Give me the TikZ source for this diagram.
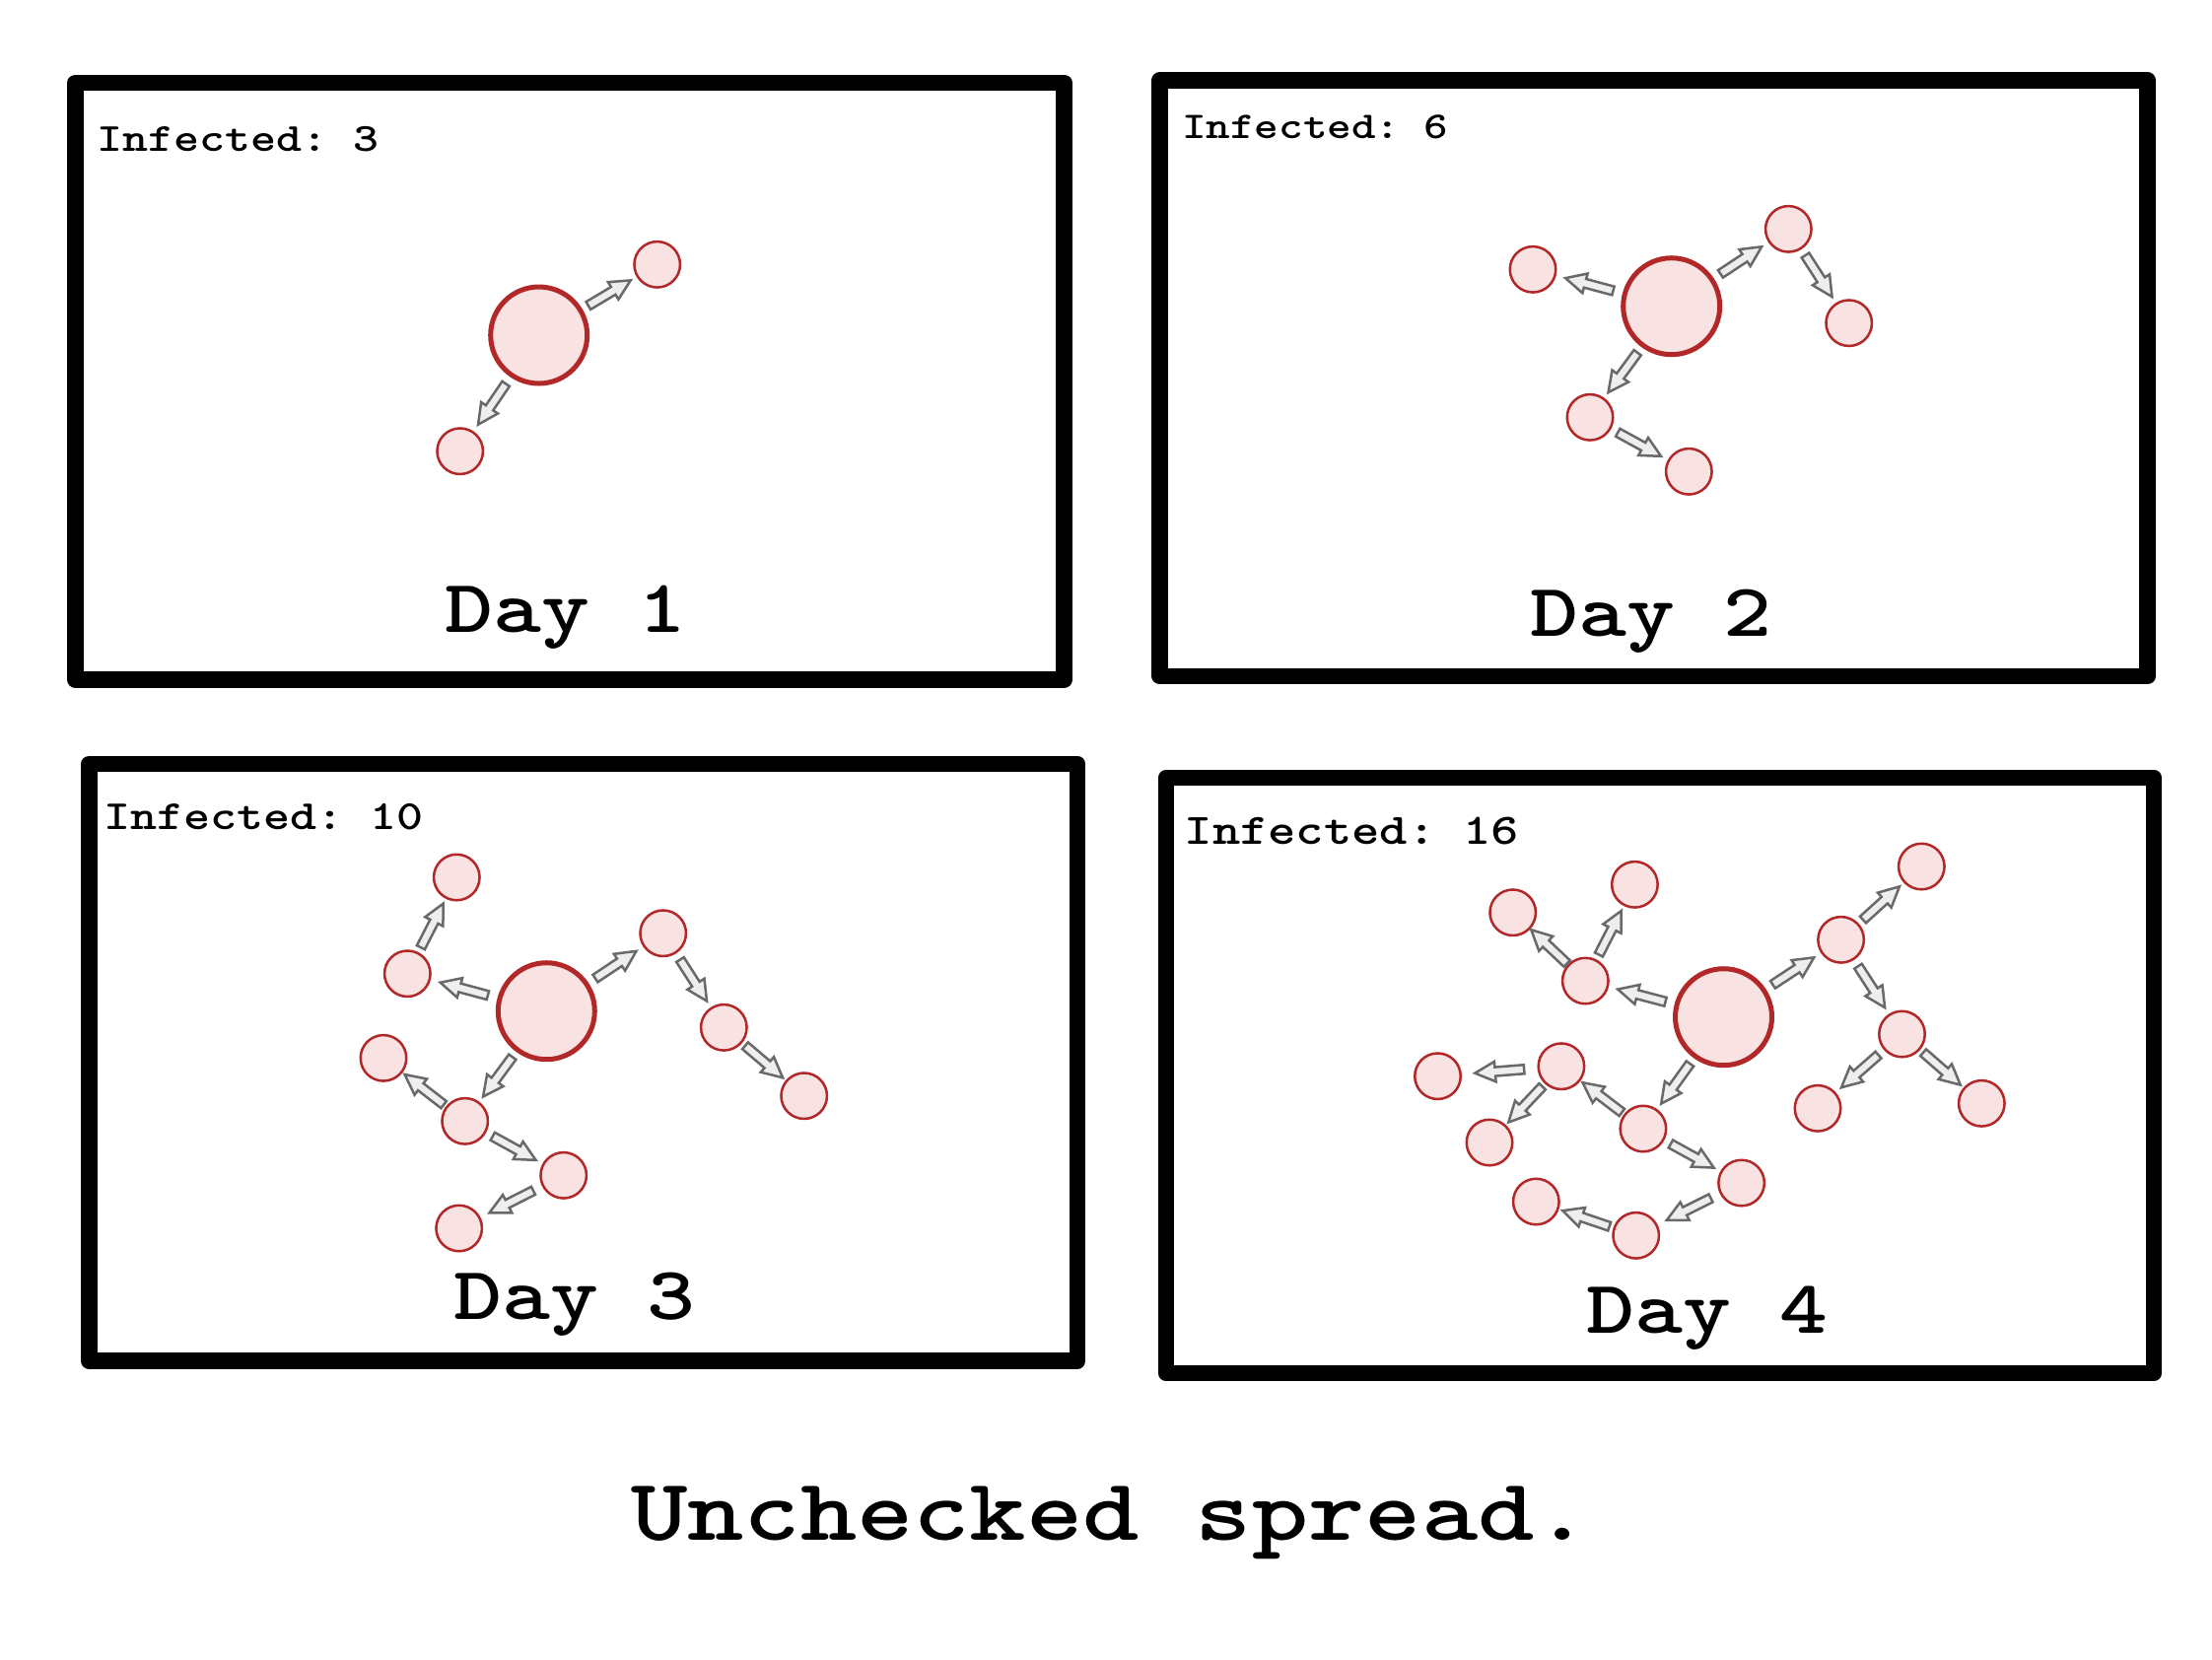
\documentclass[tikz,border=0pt]{standalone}
\usepackage{graphicx}
\usetikzlibrary{calc}
\definecolor{cred}{RGB}{178,40,40}
\definecolor{cfill}{RGB}{249,226,226}
\definecolor{agray}{RGB}{105,105,105}
\definecolor{afill}{RGB}{238,238,238}
\newcommand\mtxt[2]{\scalebox{1.222}[1]{\fontsize{#1}{#1}\ttfamily\bfseries\selectfont\frenchspacing #2}}
\newcommand\arr[2]{%
 \path (#1) -- (#2) coordinate[midway] (m);
 \filldraw[blk] let \p1=($(#2)-(#1)$), \n1={atan2(\y1,\x1)} in
  [shift={(m)},rotate=\n1]
  (-2.5mm,-0.45mm) -- (0.45mm,-0.45mm) -- (0.45mm,-1.02mm) -- (2.5mm,0mm)
  -- (0.45mm,1.02mm) -- (0.45mm,0.45mm) -- (-2.5mm,0.45mm) -- cycle;}
\begin{document}
\begin{tikzpicture}[x=0.1mm,y=-0.1mm,
 frame/.style={draw=black,line width=1.65mm,line join=round},
 big/.style={circle,draw=cred,fill=cfill,line width=0.5mm,minimum size=9.8mm,inner sep=0},
 sm/.style={circle,draw=cred,fill=cfill,line width=0.25mm,minimum size=4.65mm,inner sep=0},
 blk/.style={draw=agray,fill=afill,line width=0.25mm,line join=miter},
 lbl/.style={anchor=base west,inner sep=0}]
\useasboundingbox (0,0) rectangle (2244,1683);
\fill[white] (0,0) rectangle (2244,1683);
% frames
\draw[frame] (76.5,84) rectangle (1079.7,689.5);
\draw[frame] (1176.7,81.3) rectangle (2178.7,686);
\draw[frame] (90.3,775) rectangle (1093,1380.6);
\draw[frame] (1183,789) rectangle (2185,1393);
% Day 1
\node[big] (A) at (546.7,340) {};
\node[sm] (A1) at (666.7,268.3) {};
\node[sm] (A2) at (466.7,457.7) {};
\arr{A}{A1}\arr{A}{A2}
% Day 2
\node[big] (B) at (1695.7,310.7) {};
\node[sm] (B1) at (1555,273.3) {};
\node[sm] (B2) at (1814.3,232.3) {};
\node[sm] (B3) at (1875.7,327.7) {};
\node[sm] (B4) at (1613,423.3) {};
\node[sm] (B5) at (1713.3,478.3) {};
\arr{B}{B1}\arr{B}{B2}\arr{B2}{B3}\arr{B}{B4}\arr{B4}{B5}
% Day 3
\node[big] (C) at (554.3,1025.7) {};
\node[sm] (C1) at (463.3,890) {};
\node[sm] (C2) at (413.3,987.7) {};
\node[sm] (C3) at (389,1073.3) {};
\node[sm] (C4) at (471.7,1137.3) {};
\node[sm] (C5) at (571.7,1192.3) {};
\node[sm] (C6) at (465.7,1246) {};
\node[sm] (C7) at (672.7,946.7) {};
\node[sm] (C8) at (734.3,1042.3) {};
\node[sm] (C9) at (815.7,1111.7) {};
\arr{C}{C2}\arr{C2}{C1}\arr{C}{C4}\arr{C4}{C3}\arr{C4}{C5}\arr{C5}{C6}\arr{C}{C7}\arr{C7}{C8}\arr{C8}{C9}
% Day 4
\node[big] (D) at (1748.5,1031.7) {};
\node[sm] (D1) at (1608.3,995) {};
\node[sm] (D2) at (1534.7,925.7) {};
\node[sm] (D3) at (1658.4,897.3) {};
\node[sm] (D4) at (1867.6,953.3) {};
\node[sm] (D5) at (1949.3,879) {};
\node[sm] (D6) at (1929.5,1049) {};
\node[sm] (D7) at (1844,1124.3) {};
\node[sm] (D8) at (2010.3,1119.3) {};
\node[sm] (D9) at (1583.9,1081.7) {};
\node[sm] (D10) at (1458.5,1091.7) {};
\node[sm] (D11) at (1511,1159) {};
\node[sm] (D12) at (1666.9,1145) {};
\node[sm] (D13) at (1766.6,1200) {};
\node[sm] (D14) at (1659.7,1253.3) {};
\node[sm] (D15) at (1558.3,1219) {};
\arr{D}{D1}\arr{D1}{D2}\arr{D1}{D3}\arr{D}{D4}\arr{D4}{D5}\arr{D4}{D6}\arr{D6}{D7}\arr{D6}{D8}
\arr{D}{D12}\arr{D12}{D9}\arr{D9}{D10}\arr{D9}{D11}\arr{D12}{D13}\arr{D13}{D14}\arr{D14}{D15}
% labels
\node[lbl] (t1) at (98,153.3) {\mtxt{11.52pt}{Infected: 3}};
\node[lbl] (t2) at (1198.4,140) {\mtxt{10.9pt}{Infected: 6}};
\node[lbl] (t3) at (104.6,841.7) {\mtxt{11.98pt}{Infected: 10}};
\node[lbl] (t4) at (1201,856.7) {\mtxt{12.55pt}{Infected: 16}};
\node[lbl] (d1) at (451,641.5) {\mtxt{21.7pt}{Day 1}};
\node[lbl] (d2) at (1552,645.5) {\mtxt{21.7pt}{Day 2}};
\node[lbl] (d3) at (460,1338) {\mtxt{21.7pt}{Day 3}};
\node[lbl] (d4) at (1609,1352.5) {\mtxt{21.7pt}{Day 4}};
\node[anchor=base,inner sep=0] (title) at (1127,1562) {\mtxt{25.4pt}{Unchecked spread.}};
\end{tikzpicture}
\end{document}
